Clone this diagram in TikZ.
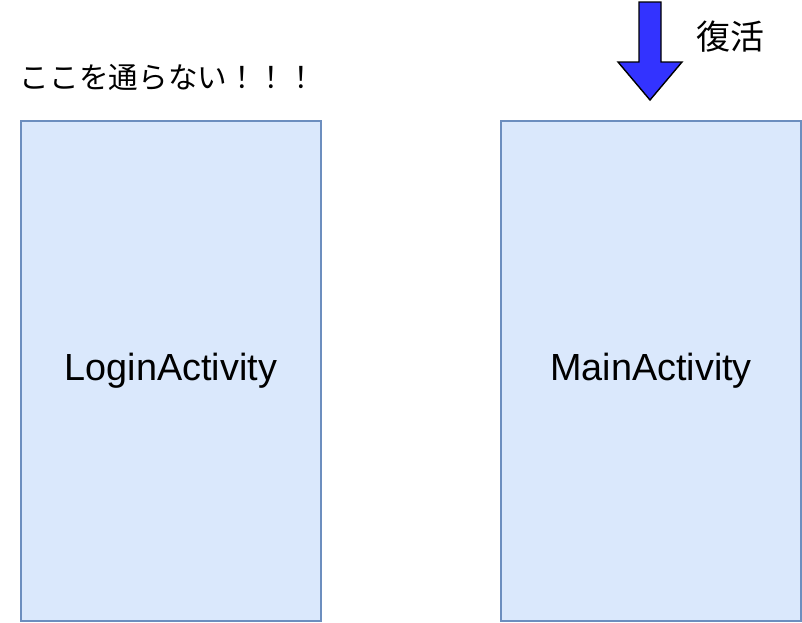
\documentclass[tikz,border=0pt]{standalone}
\usepackage{fontspec}
\setmainfont{Liberation Sans}
\newfontfamily\cjk{Noto Sans CJK JP}
\definecolor{boxfill}{HTML}{DAE8FC}
\definecolor{boxline}{HTML}{6C8EBF}
\definecolor{arrowblue}{HTML}{3333FF}
\begin{document}
\begin{tikzpicture}[x=1pt,y=-1pt,
  actbox/.style={draw=boxline,fill=boxfill,line width=1.6pt,minimum width=300pt,minimum height=500pt,inner sep=0pt,font=\fontsize{37.8}{40}\selectfont},
  jptext/.style={font=\cjk\fontsize{29.6}{31}\selectfont,inner sep=0pt}]
\useasboundingbox (0,0) rectangle (802,622);
\node[actbox] (login) at (171,371) {LoginActivity};
\node[actbox] (main) at (651,371) {MainActivity};
\node[jptext] (note) at (168,77) {ここを通らない！！！};
\node[jptext,font=\cjk\fontsize{34}{36}\selectfont] (revive) at (730,37) {復活};
\draw[fill=arrowblue,draw=black,line width=1.4pt,line join=miter]
  (639,2) -- (661,2) -- (661,62) -- (682,62) -- (650,100) -- (618,62) -- (639,62) -- cycle;
\end{tikzpicture}
\end{document}
